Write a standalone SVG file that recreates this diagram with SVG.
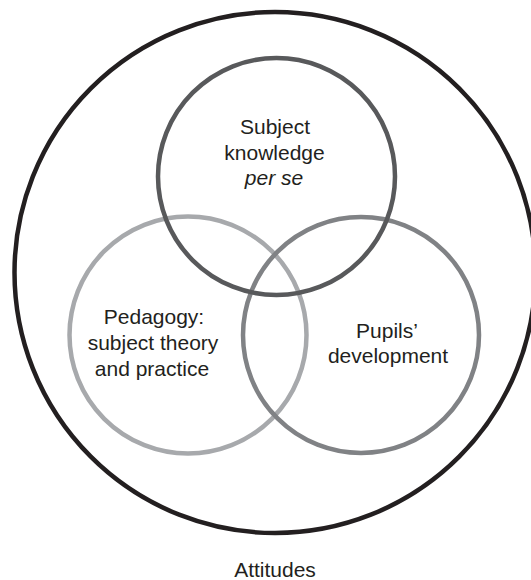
<svg xmlns="http://www.w3.org/2000/svg" width="531" height="580" viewBox="0 0 531 580">
<style>
text{font-family:"Liberation Sans",Arial,sans-serif;font-size:21px;fill:#231f20;text-anchor:middle}
circle{fill:none;stroke-width:4.5}
</style>
<rect width="531" height="580" fill="#fff"/>
<g id="attitudes">
<circle cx="275" cy="272.5" r="260.5" stroke="#231f20"/>
<text x="275" y="577">Attitudes</text>
</g>
<g id="pedagogy">
<circle cx="188" cy="335" r="118.5" stroke="#a7a9ac"/>
<text x="154" y="324">Pedagogy:</text>
<text x="153" y="350">subject theory</text>
<text x="152" y="376">and practice</text>
</g>
<g id="pupils">
<circle cx="361" cy="335" r="118" stroke="#808285"/>
<text x="387" y="338">Pupils’</text>
<text x="388" y="363">development</text>
</g>
<g id="subject">
<circle cx="276.5" cy="176.5" r="118.5" stroke="#58595b"/>
<text x="275" y="134">Subject</text>
<text x="274.5" y="160">knowledge</text>
<text x="274" y="185" font-style="italic">per se</text>
</g>
<g id="connectors"/>
</svg>
